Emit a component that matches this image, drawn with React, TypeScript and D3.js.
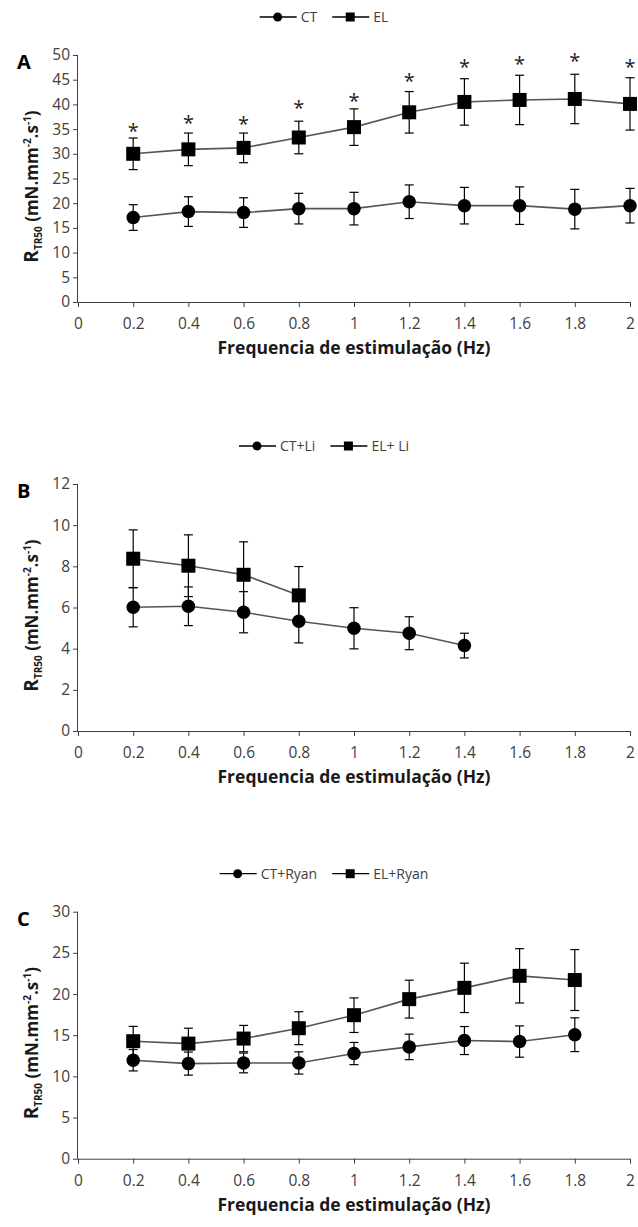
import { useEffect, useRef } from "react";
import * as d3 from "d3";

// frequencies (Hz)
const freqA = [0.2, 0.4, 0.6, 0.8, 1.0, 1.2, 1.4, 1.6, 1.8, 2.0];
const freqBct = [0.2, 0.4, 0.6, 0.8, 1.0, 1.2, 1.4];
const freqBel = [0.2, 0.4, 0.6, 0.8];
const freqC = [0.2, 0.4, 0.6, 0.8, 1.0, 1.2, 1.4, 1.6, 1.8];
const xTicks = [0, 0.2, 0.4, 0.6, 0.8, 1, 1.2, 1.4, 1.6, 1.8, 2];

// panel A
const ctMean = [17.1, 18.3, 18.1, 18.9, 18.9, 20.3, 19.5, 19.5, 18.8, 19.5];
const ctErr = [2.6, 3.0, 3.0, 3.1, 3.3, 3.4, 3.7, 3.8, 4.0, 3.5];
const elMean = [30.0, 30.9, 31.2, 33.3, 35.4, 38.4, 40.5, 40.9, 41.1, 40.1];
const elErr = [3.2, 3.3, 3.0, 3.3, 3.7, 4.2, 4.7, 5.0, 5.0, 5.3];
const starA = [35.5, 37.0, 36.8, 40.1, 41.4, 45.5, 48.4, 49.0, 49.5, 48.3];

// panel B (lithium)
const ctLiMean = [6.01, 6.06, 5.77, 5.33, 4.99, 4.75, 4.15];
const ctLiErr = [0.95, 0.94, 1.0, 1.05, 1.0, 0.8, 0.6];
const elLiMean = [8.37, 8.03, 7.59, 6.59];
const elLiErr = [1.4, 1.5, 1.6, 1.4];

// panel C (ryanodine)
const ctRyMean = [11.96, 11.55, 11.63, 11.63, 12.77, 13.58, 14.35, 14.23, 15.06];
const ctRyErr = [1.3, 1.4, 1.2, 1.35, 1.35, 1.55, 1.7, 1.9, 2.05];
const elRyMean = [14.27, 13.98, 14.59, 15.85, 17.43, 19.38, 20.75, 22.21, 21.7];
const elRyErr = [1.8, 1.87, 1.6, 2.0, 2.1, 2.3, 3.0, 3.3, 3.7];

const FONT = "'Open Sans', sans-serif";
const LEFT = 78;
const RIGHT = 630;
const PLOT_H = 247;

const panels = [
  {
    letter: "A", top: 55, yMax: 50, yStep: 5,
    series: [
      { name: "CT", shape: "circle", x: freqA, mean: ctMean, err: ctErr },
      { name: "EL", shape: "square", x: freqA, mean: elMean, err: elErr },
    ],
    stars: starA,
  },
  {
    letter: "B", top: 484, yMax: 12, yStep: 2,
    series: [
      { name: "CT+Li", shape: "circle", x: freqBct, mean: ctLiMean, err: ctLiErr },
      { name: "EL+ Li", shape: "square", x: freqBel, mean: elLiMean, err: elLiErr },
    ],
    stars: null,
  },
  {
    letter: "C", top: 911.7, yMax: 30, yStep: 5,
    series: [
      { name: "CT+Ryan", shape: "circle", x: freqC, mean: ctRyMean, err: ctRyErr },
      { name: "EL+Ryan", shape: "square", x: freqC, mean: elRyMean, err: elRyErr },
    ],
    stars: null,
  },
];

const drawMarker = (g, shape, cx, cy, size) => {
  if (shape === "circle") {
    g.append("circle").attr("cx", cx).attr("cy", cy).attr("r", size / 2).attr("fill", "#000");
  } else {
    g.append("rect")
      .attr("x", cx - size / 2).attr("y", cy - size / 2)
      .attr("width", size).attr("height", size).attr("fill", "#000");
  }
};

const App = () => {
  const ref = useRef(null);

  useEffect(() => {
    const svg = d3.select(ref.current);
    svg.selectAll("*").remove();

    const x = d3.scaleLinear().domain([0, 2]).range([LEFT, RIGHT]);

    panels.forEach((p) => {
      const bottom = p.top + PLOT_H;
      const y = d3.scaleLinear().domain([0, p.yMax]).range([bottom, p.top]);
      const g = svg.append("g");

      // y axis
      const yAxis = d3.axisLeft(y).tickValues(d3.range(0, p.yMax + 0.001, p.yStep)).tickSize(5).tickPadding(3);
      const ya = g.append("g").attr("transform", `translate(${LEFT},0)`).call(yAxis);
      ya.select(".domain").attr("d", `M-0.5,${p.top}V${bottom}`).attr("stroke", "#404040");
      ya.selectAll("line").attr("stroke", "#404040");
      ya.selectAll("text").attr("font-family", FONT).attr("font-size", 15.5).attr("fill", "#404040");

      // x axis
      const xAxis = d3.axisBottom(x).tickValues(xTicks).tickSize(5).tickPadding(11)
        .tickFormat((d) => String(+(+d).toFixed(1)));
      const xa = g.append("g").attr("transform", `translate(0,${bottom})`).call(xAxis);
      xa.select(".domain").attr("d", `M${LEFT},0.5H${RIGHT}`).attr("stroke", "#404040");
      xa.selectAll("line").attr("stroke", "#404040");
      xa.selectAll("text").attr("font-family", FONT).attr("font-size", 15.5).attr("fill", "#404040");

      // x title
      g.append("text")
        .attr("x", (LEFT + RIGHT) / 2).attr("y", bottom + 52)
        .attr("text-anchor", "middle").attr("font-family", FONT)
        .attr("font-size", 17.5).attr("font-weight", "bold").attr("fill", "#1a1a1a")
        .text("Frequencia de estimulação (Hz)");

      // y title
      const yt = g.append("text")
        .attr("transform", `translate(38,${p.top + PLOT_H / 2 + 8}) rotate(-90)`)
        .attr("text-anchor", "middle").attr("font-family", FONT)
        .attr("font-weight", "bold").attr("font-size", 17).attr("fill", "#1a1a1a");
      yt.append("tspan").attr("font-size", 19).text("R");
      yt.append("tspan").attr("font-size", 10).attr("dy", 4).text("TR50");
      yt.append("tspan").attr("dy", -4).text(" (mN.mm");
      yt.append("tspan").attr("font-size", 10).attr("dy", -7).text("-2");
      yt.append("tspan").attr("dy", 7).text(".s");
      yt.append("tspan").attr("font-size", 10).attr("dy", -7).text("-1");
      yt.append("tspan").attr("dy", 7).text(")");

      // panel letter
      g.append("text")
        .attr("x", 17).attr("y", p.top + 14)
        .attr("font-family", FONT).attr("font-size", 20).attr("font-weight", "bold")
        .attr("fill", "#000").text(p.letter);

      // series
      p.series.forEach((s) => {
        const pts = s.x.map((fx, i) => ({ fx, m: s.mean[i], e: s.err[i] }));
        const line = d3.line().x((d) => x(d.fx)).y((d) => y(d.m));
        g.append("path").datum(pts).attr("d", line)
          .attr("fill", "none").attr("stroke", "#555").attr("stroke-width", 1.6);

        pts.forEach((d) => {
          const cx = x(d.fx);
          g.append("line").attr("x1", cx).attr("x2", cx)
            .attr("y1", y(d.m - d.e)).attr("y2", y(d.m + d.e))
            .attr("stroke", "#000").attr("stroke-width", 1.2);
          [d.m - d.e, d.m + d.e].forEach((v) => {
            g.append("line").attr("x1", cx - 4.5).attr("x2", cx + 4.5)
              .attr("y1", y(v)).attr("y2", y(v))
              .attr("stroke", "#000").attr("stroke-width", 1.2);
          });
        });
        pts.forEach((d) => {
          drawMarker(g, s.shape, x(d.fx), y(d.m), s.shape === "circle" ? 13.5 : 14);
        });
      });

      // significance stars
      if (p.stars) {
        p.stars.forEach((v, i) => {
          g.append("text")
            .attr("x", x(p.series[1].x[i])).attr("y", y(v) + 11)
            .attr("text-anchor", "middle").attr("font-family", FONT)
            .attr("font-size", 20).attr("fill", "#222").text("*");
        });
      }

      // legend
      const lg = g.append("g");
      let cursor = 0;
      p.series.forEach((s, i) => {
        if (i > 0) cursor += 15;
        lg.append("line").attr("x1", cursor).attr("x2", cursor + 37)
          .attr("y1", 0).attr("y2", 0).attr("stroke", "#000").attr("stroke-width", 1.3);
        drawMarker(lg, s.shape, cursor + 18, 0, 9);
        cursor += 41;
        const t = lg.append("text").attr("x", cursor).attr("y", 5)
          .attr("font-family", FONT).attr("font-size", 14).attr("fill", "#404040").text(s.name);
        cursor += t.node().getComputedTextLength();
      });
      lg.attr("transform", `translate(${324 - cursor / 2},${p.top - 38})`);
    });
  }, []);

  return (
    <svg
      ref={ref}
      width={638}
      height={1227}
      style={{ position: "absolute", left: 0, top: 0, background: "#fff" }}
    />
  );
};

export default App;
